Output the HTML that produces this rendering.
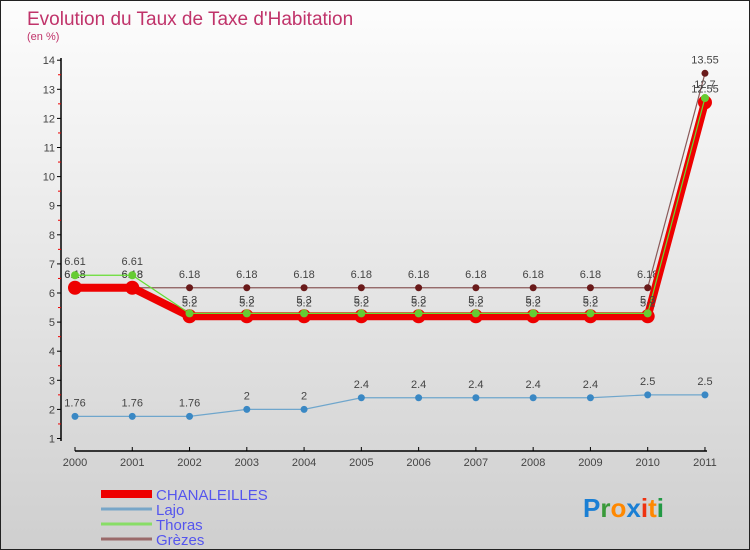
<!DOCTYPE html>
<html><head><meta charset="utf-8"><style>
body{margin:0}
#c{width:748px;height:548px;border:1px solid #222;background:linear-gradient(#fdfdfd,#cfcfcf);position:relative;overflow:hidden;font-family:"Liberation Sans",sans-serif}
</style></head><body>
<div id="c">
<svg id="s" width="748" height="548" xmlns="http://www.w3.org/2000/svg" style="position:absolute;left:0;top:0">
<text x="26" y="24" font-size="19" fill="#c0336a">Evolution du Taux de Taxe d'Habitation</text>
<text x="26" y="39" font-size="11" fill="#c0336a">(en %)</text>
</svg>
</div>
<script>
const years=["2000","2001","2002","2003","2004","2005","2006","2007","2008","2009","2010","2011"];
const chanaleilles=[6.18,6.18,5.2,5.2,5.2,5.2,5.2,5.2,5.2,5.2,5.2,12.55];
const lajo=[1.76,1.76,1.76,2,2,2.4,2.4,2.4,2.4,2.4,2.5,2.5];
const thoras=[6.61,6.61,5.3,5.3,5.3,5.3,5.3,5.3,5.3,5.3,5.3,12.7];
const grezes=[6.18,6.18,6.18,6.18,6.18,6.18,6.18,6.18,6.18,6.18,6.18,13.55];
const yTicks=[1,2,3,4,5,6,7,8,9,10,11,12,13,14];
const NS="http://www.w3.org/2000/svg",s=document.getElementById('s');
const X=i=>74+i*57.27, Y=v=>292-(v-6)*29.1;
function el(t,a){const e=document.createElementNS(NS,t);for(const k in a)e.setAttribute(k,a[k]);s.appendChild(e);return e;}
let ax=el('line',{x1:60,y1:57,x2:60,y2:440,stroke:'#000','stroke-width':1.5});


let bx=el('line',{x1:74,y1:450,x2:706,y2:450,stroke:'#000','stroke-width':1.5});


yTicks.forEach(v=>{
 el('line',{x1:56,x2:60,y1:Y(v),y2:Y(v),stroke:'#000'});
 if(v<14)el('line',{x1:57,x2:60,y1:Y(v+0.5),y2:Y(v+0.5),stroke:'#e00'});
 const t=el('text',{x:54,y:Y(v)+4,'font-size':11,'text-anchor':'end',fill:'#444'});t.textContent=v;
 
 
});
years.forEach((y,i)=>{
 el('line',{x1:X(i),x2:X(i),y1:446,y2:450,stroke:'#000'});
 const t=el('text',{x:X(i),y:465,'font-size':11,'text-anchor':'middle',fill:'#444'});t.textContent=y;
 
 
});
function series(d,name,color,w,r,dot,lab,dy){
 const p=el('polyline',{points:d.map((v,i)=>X(i)+','+Y(v)).join(' '),fill:'none',stroke:color,'stroke-width':w});
 
 
 d.forEach((v,i)=>{
  const c=el('circle',{cx:X(i),cy:Y(v),r:r,fill:dot});
  
  
  if(lab){const t=el('text',{x:X(i),y:Y(v)+dy,'font-size':11,'text-anchor':'middle',fill:'#444'});t.textContent=v;
  
  }
 });
}
series(lajo,'lajo','#6fa6cc',1.2,3.5,'#3a88c4',true,-10);
series(grezes,'grezes','#8a5a5a',1.2,3.5,'#6a1a1a',true,-10);
series(chanaleilles,'chanaleilles','#ee0000',8,7,'#ee0000',true,-10);
series(thoras,'thoras','#66dd33',1.2,4,'#66cc33',true,-10);
const leg=[['CHANALEILLES','#ee0000',8],['Lajo','#78a6c8',3],['Thoras','#88dd66',3],['Grèzes','#9a6a6a',3]];
leg.forEach((l,i)=>{const yy=493+i*15;
 const ln=el('line',{x1:100,x2:151,y1:yy,y2:yy,stroke:l[1],'stroke-width':l[2]});
 
 
 const t=el('text',{x:155,y:yy+6,'font-size':15,fill:'#5555ee'});t.textContent=l[0];
 
 
});
const logo=el('text',{x:582,y:516,'font-size':26,'font-weight':'bold'});


[['P','#1a7fd4'],['r','#3a9a3a'],['o','#ff8800'],['x','#1a7fd4'],['i','#ee3311'],['t','#ff8800'],['i','#229944']].forEach(c=>{const sp=document.createElementNS(NS,'tspan');sp.setAttribute('fill',c[1]);sp.textContent=c[0];logo.appendChild(sp);});
</script>
</body></html>
